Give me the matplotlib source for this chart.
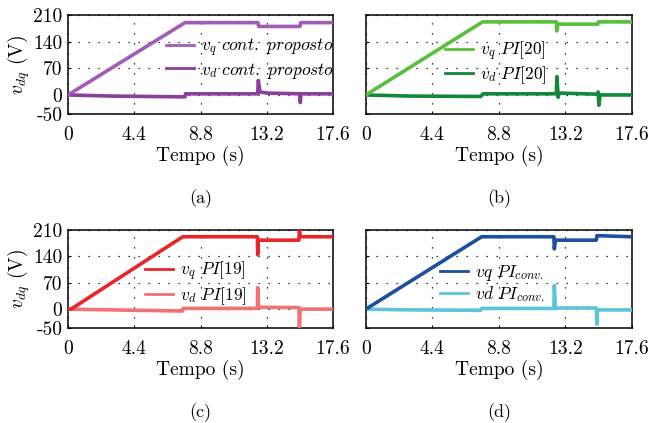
import matplotlib
matplotlib.use("Agg")
import matplotlib.pyplot as plt

plt.rcParams["font.family"] = "cmr10"
plt.rcParams["mathtext.fontset"] = "cm"
plt.rcParams["axes.unicode_minus"] = False

# breakpoints (time in s, voltage in V)
t_a = [0, 7.77, 12.62, 12.66, 15.41, 15.45, 17.6]
vq_a = [0, 190, 190, 180, 180, 190, 190]
td_a = [0, 3.0, 7.77, 7.8, 12.6, 12.64, 12.75, 13.2, 15.4, 15.43, 15.47, 17.6]
vd_a = [0, -3, -5, 3, 3, 38, 8, 5, 3, -20, 3, 3]

t_b = [0, 7.72, 12.6, 12.63, 12.7, 15.35, 15.39, 17.6]
vq_b = [0, 192, 192, 168, 186, 186, 192, 192]
td_b = [0, 3.0, 7.6, 7.75, 12.6, 12.64, 12.72, 12.8, 15.3, 15.37, 15.42, 15.5, 17.6]
vd_b = [0, -3, -4, 3, 3, 48, -6, 5, 2, 8, -27, 0, 0]

t_c = [0, 0.2, 7.62, 12.58, 12.6, 12.64, 15.34, 15.37, 15.42, 17.6]
vq_c = [0, 0, 192, 192, 144, 183, 183, 210, 192, 192]
td_c = [0, 3.0, 7.6, 7.63, 12.58, 12.6, 12.66, 15.34, 15.37, 15.42, 17.6]
vd_c = [0, -2, -5, 2, 2, 57, 5, 4, -47, 0, 0]

t_d = [0, 7.66, 12.44, 12.47, 12.55, 15.25, 15.29, 17.6]
vq_d = [0, 192, 192, 160, 183, 183, 195, 192]
td_d = [0, 3.0, 7.6, 7.66, 12.44, 12.47, 12.55, 15.25, 15.28, 15.33, 17.6]
vd_d = [0, -2, -3, 2, 2, 63, 3, 3, -40, -2, -2]

x_ticks = [0, 4.4, 8.8, 13.2, 17.6]
x_labels = ["0", "4.4", "8.8", "13.2", "17.6"]
y_ticks = [-50, 0, 70, 140, 210]
y_labels = ["-50", "0", "70", "140", "210"]

panels = [
    dict(pos=[0.1045, 0.7305, 0.407, 0.234], tag="(a)",
         q=(t_a, vq_a, "#a35cb6", r"$v_q\ \mathit{cont.\ proposto}$"),
         d=(td_a, vd_a, "#8b3f9c", r"$v_d\ \mathit{cont.\ proposto}$"),
         loc="center right", leg=(1.01, 0.56), ylabel=True),
    dict(pos=[0.562, 0.7305, 0.4086, 0.234], tag="(b)",
         q=(t_b, vq_b, "#5abf3c", r"$v_q\ \mathit{PI[20]}$"),
         d=(td_b, vd_b, "#14883a", r"$v_d\ \mathit{PI[20]}$"),
         loc="center", leg=(0.49, 0.515), ylabel=False),
    dict(pos=[0.1045, 0.2246, 0.407, 0.2317], tag="(c)",
         q=(t_c, vq_c, "#e8262a", r"$v_q\ \mathit{PI[19]}$"),
         d=(td_c, vd_c, "#f27272", r"$v_d\ \mathit{PI[19]}$"),
         loc="center", leg=(0.483, 0.454), ylabel=True),
    dict(pos=[0.562, 0.2246, 0.4086, 0.2317], tag="(d)",
         q=(t_d, vq_d, "#1c4f9f", r"$vq\ PI_{conv.}$"),
         d=(td_d, vd_d, "#5cc6d8", r"$vd\ PI_{conv.}$"),
         loc="center", leg=(0.475, 0.454), ylabel=False),
]

fig = plt.figure(figsize=(6.51, 4.23), dpi=100)

for p in panels:
    ax = fig.add_axes(p["pos"])
    tq, vq, cq, lq = p["q"]
    td, vd, cd, ld = p["d"]
    ax.plot(td, vd, color=cd, lw=2.6, label=ld, zorder=3)
    ax.plot(tq, vq, color=cq, lw=2.6, label=lq, zorder=4)
    ax.set_xlim(0, 17.6)
    ax.set_ylim(-50, 210)
    ax.set_xticks(x_ticks)
    ax.set_xticklabels(x_labels)
    ax.set_yticks(y_ticks)
    if p["ylabel"]:
        ax.set_yticklabels(y_labels)
        ax.set_ylabel(r"$v_{dq}$ (V)", fontsize=14, labelpad=1)
    else:
        ax.set_yticklabels([])
    ax.tick_params(direction="in", length=2, labelsize=14, pad=4)
    ax.tick_params(axis="x", pad=9)
    ax.grid(True, color="black", linestyle=(0, (1, 7)), linewidth=0.9)
    ax.set_xlabel("Tempo (s)", fontsize=14, labelpad=1)
    for s in ax.spines.values():
        s.set_linewidth(1.1)
    h, l = ax.get_legend_handles_labels()
    leg = ax.legend(h[::-1], l[::-1], loc=p["loc"], bbox_to_anchor=p["leg"], frameon=False,
                    fontsize=12.5, handlelength=1.6, handletextpad=0.4, labelspacing=0.1,
                    borderpad=0.1, borderaxespad=0)
    for ln in leg.get_lines():
        ln.set_linewidth(2.0)
    x0, y0, w, hgt = p["pos"]
    fig.text(x0 + w / 2, y0 - 0.2, p["tag"], ha="center", va="center", fontsize=13)

fig.savefig("out.png", dpi=100, facecolor="white")
